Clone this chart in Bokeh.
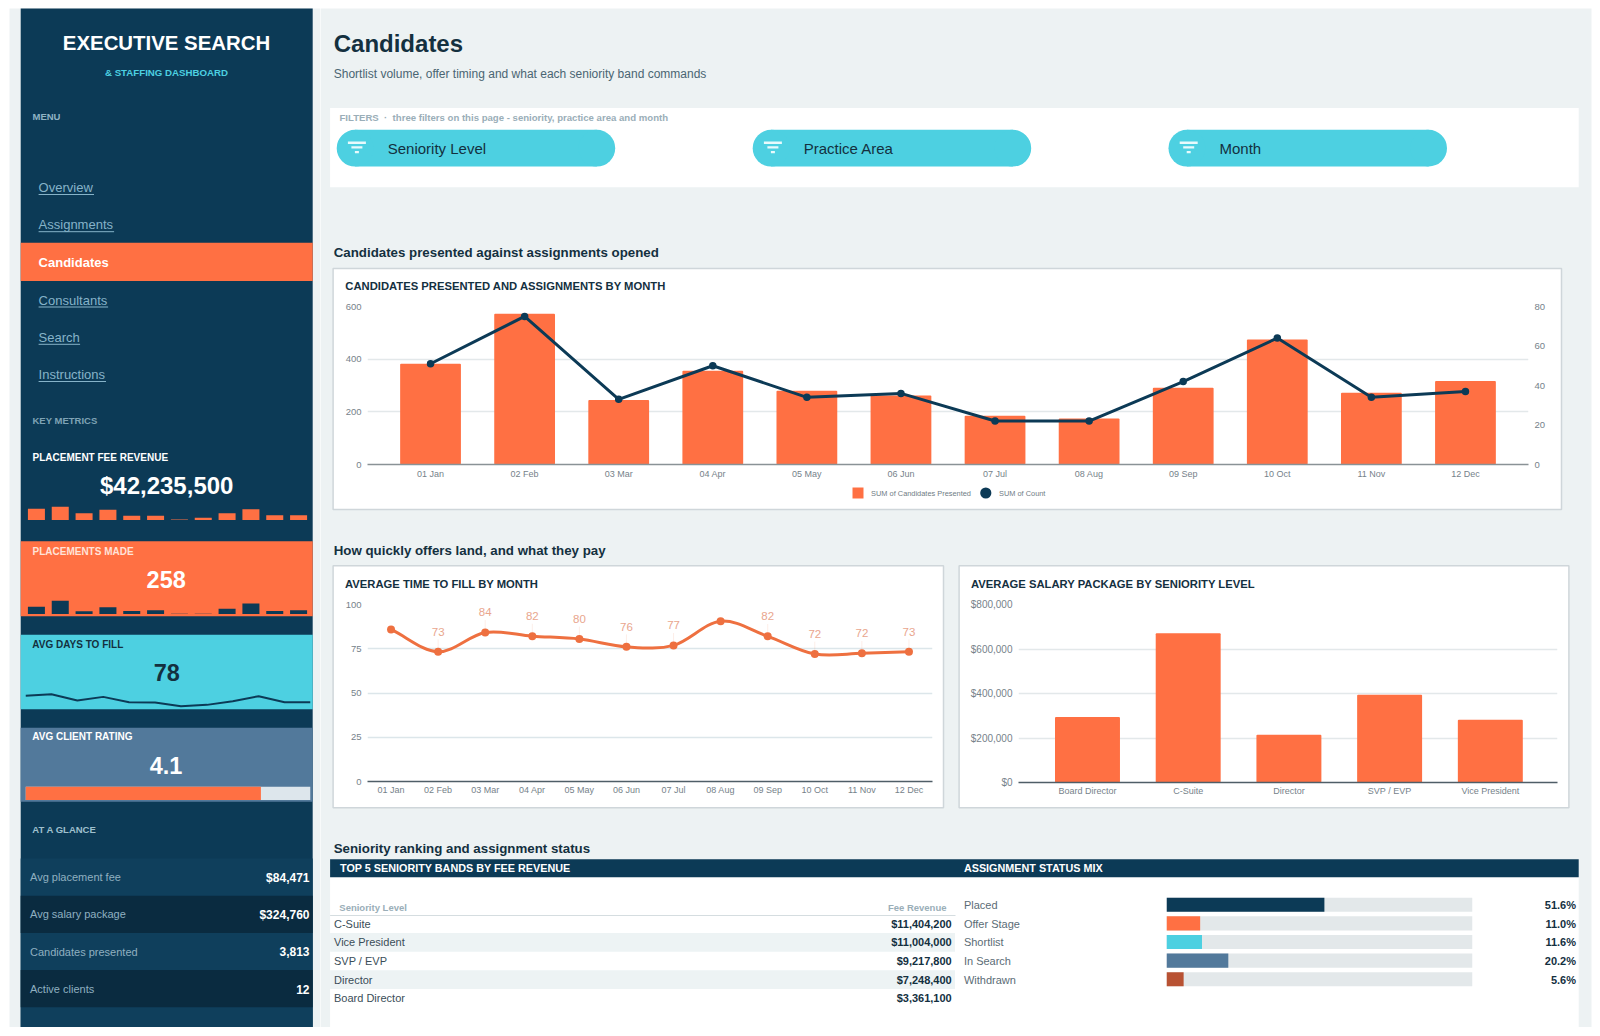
from bokeh.plotting import figure
from bokeh.layouts import column
from bokeh.models import Range1d, LinearAxis, FixedTicker, FactorRange, NumeralTickFormatter
from bokeh.core.properties import value
from bokeh.embed import file_html
from bokeh.resources import INLINE

# ---------------- data ----------------
MONTHS = ["01 Jan", "02 Feb", "03 Mar", "04 Apr", "05 May", "06 Jun", "07 Jul", "08 Aug", "09 Sep", "10 Oct", "11 Nov", "12 Dec"]
CANDIDATES = [383, 572, 245, 356, 280, 262, 185, 175, 291, 475, 272, 317]
COUNT = [51, 75, 33, 50, 34, 36, 22, 22, 42, 64, 34, 37]
FILL_DAYS = [85.9, 73.3, 84.2, 82.1, 80.5, 76.1, 76.9, 90.6, 82.0, 72.0, 72.4, 73.3]
FILL_LABELS = ["", "73", "84", "82", "80", "76", "77", "", "82", "72", "72", "73"]
SENIORITY = ["Board Director", "C-Suite", "Director", "SVP / EVP", "Vice President"]
SALARY = [294000, 671000, 214600, 394700, 282000]
FEE_SPARK = [5770000, 6760000, 3600000, 5280000, 2320000, 2320000, 490000, 1330000, 3600000, 5580000, 2620000, 2620000]
PLACE_SPARK = [30, 54, 13, 28, 14, 17, 3, 3, 22, 43, 14, 17]
DAYS_SPARK = [84, 86.5, 77, 82.5, 74.5, 74, 68.5, 70.5, 76, 83.5, 74.5, 74.5]
RATING = 4.13
RATING_MAX = 5
MENU = ["Overview", "Assignments", "Candidates", "Consultants", "Search", "Instructions"]
GLANCE_LABELS = ["Avg placement fee", "Avg salary package", "Candidates presented", "Active clients"]
GLANCE_VALUES = ["$84,471", "$324,760", "3,813", "12"]
FILTERS = ["Seniority Level", "Practice Area", "Month"]
TOP_BANDS = ["C-Suite", "Vice President", "SVP / EVP", "Director", "Board Director"]
TOP_FEES = ["$11,404,200", "$11,004,000", "$9,217,800", "$7,248,400", "$3,361,100"]
STATUS = ["Placed", "Offer Stage", "Shortlist", "In Search", "Withdrawn"]
STATUS_PCT = [51.6, 11.0, 11.6, 20.2, 5.6]

# ---------------- palette ----------------
NAVY = "#0C3A56"
NAVY_L = "#0F3F5C"
NAVY_D = "#0A2B40"
ORANGE = "#FF7043"
CYAN = "#4DD0E1"
STEEL = "#52799B"
BRICK = "#B85233"
PAGE = "#EDF2F3"
INK = "#14303F"
GRID = "#E3E8EA"
TICK = "#76828A"
FONT = "Liberation Sans"
STATUS_COLORS = [NAVY, ORANGE, CYAN, STEEL, BRICK]

W, H = 1584, 1020
BORDER_L, BORDER_R = 60, 40


def frame_fig(x0, x1, y0, y1, pad_t=0, pad_b=0, **kw):
    """Figure whose frame covers the page box x0..x1, y0..y1."""
    f = figure(frame_width=int(round(x1 - x0)), frame_height=int(round(y1 - y0)),
               output_backend="svg", toolbar_location=None, min_border=0,
               min_border_left=BORDER_L, min_border_right=BORDER_R,
               min_border_top=pad_t, min_border_bottom=pad_b,
               outline_line_color=None, background_fill_color=None, border_fill_color=None, **kw)
    f.styles = {"position": "absolute", "left": f"{x0 - BORDER_L - 8:.1f}px", "top": f"{y0 - pad_t - 8:.1f}px"}
    f.grid.visible = False
    return f


def sheet(x0, x1):
    """Page-pixel sheet for the panels and texts of one part of the page."""
    return frame_fig(x0, x1, 8, 8 + H, x_range=Range1d(x0, x1), y_range=Range1d(8 + H, 8),
                     x_axis_type=None, y_axis_type=None)


side = sheet(8, 320)
main = sheet(320, 1592)
bg = side


def box(x0, x1, y0, y1, color, line=None, lw=1):
    bg.quad(left=[x0], right=[x1], top=[y0], bottom=[y1], fill_color=color,
            line_color=line, line_width=lw)


def T(x, y, s, size, color, bold=False, align="left"):
    bg.text(x=[x], y=[y], text=[s], text_font=value(FONT), text_font_size=f"{size}px",
            text_color=color, text_font_style="bold" if bold else "normal",
            text_align=align, text_baseline="middle")


# page and sidebar
SL, SR = 20.2, 312.2
box(9, 320, 9, 1028, PAGE)
box(SL, SR, 9, 1028, NAVY)
T(166, 43.5, "EXECUTIVE SEARCH", 20.4, "#FFFFFF", True, "center")
T(166, 72.5, "& STAFFING DASHBOARD", 9.7, CYAN, True, "center")
T(32, 117, "MENU", 9.5, "#8FB3C4", True)

box(SL, SR, 243.3, 281.5, ORANGE)
menu_y = [188, 225.2, 262.5, 300.5, 337.8, 375]
menu_end = [93.5, 113.6, 0, 107.6, 79.6, 105.5]
for name, y, end in zip(MENU, menu_y, menu_end):
    active = name == "Candidates"
    T(38.1, y, name, 13, "#FFFFFF" if active else "#86B3C9", active)
    if not active:
        bg.line(x=[38.1, end], y=[y + 7, y + 7], line_color="#86B3C9", line_width=1)

T(32, 420.7, "KEY METRICS", 9.5, "#7FA3B5", True)
T(32, 458, "PLACEMENT FEE REVENUE", 10, "#FFFFFF", True)
T(166.2, 486, "$42,235,500", 24, "#FFFFFF", True, "center")

box(SL, SR, 541.7, 616.7, ORANGE)
T(32, 552, "PLACEMENTS MADE", 10, "#FFE3D8", True)
T(165.7, 580, "258", 23.5, "#FFFFFF", True, "center")

box(SL, SR, 635.3, 709.7, CYAN)
T(31.8, 645, "AVG DAYS TO FILL", 10, INK, True)
T(166.2, 673.3, "78", 23.5, INK, True, "center")

box(SL, SR, 728.3, 802.2, STEEL)
T(31.8, 737.3, "AVG CLIENT RATING", 10, "#FFFFFF", True)
T(165.5, 765.7, "4.1", 23.5, "#FFFFFF", True, "center")

T(31.8, 830.3, "AT A GLANCE", 9.5, "#9FC0CE", True)
box(SL, SR, 859, 1028, NAVY_L)
for i, (lab, val) in enumerate(zip(GLANCE_LABELS, GLANCE_VALUES)):
    y0 = 859 + i * 37.2
    if i % 2:
        box(SL, SR, y0, y0 + 37.2, NAVY_D)
    T(29.5, y0 + 18.6, lab, 11, "#8FB0C0")
    T(309, y0 + 19, val, 12, "#FFFFFF", True, "right")

# heading and filters
bg = main
box(320, 1591, 9, 1028, PAGE)
T(333.2, 44.4, "Candidates", 24, INK, True)
T(333.2, 74.5, "Shortlist volume, offer timing and what each seniority band commands", 12, "#4A6572")
box(329.6, 1578.2, 108.5, 187.8, "#FFFFFF")
T(339, 117.7, "FILTERS \u00a0·\u00a0 three filters on this page - seniority, practice area and month", 9.6, "#9AAEB8", True)
for name, px in zip(FILTERS, [336.2, 752.2, 1168]):
    r = 18.4
    bg.quad(left=[px + r], right=[px + 278.5 - r], top=[130.3], bottom=[167], fill_color=CYAN, line_color=None)
    bg.circle(x=[px + r, px + 278.5 - r], y=[148.65, 148.65], radius=r, fill_color=CYAN, line_color=None)
    cx = px + 20.2
    for dy, hw in [(143.2, 9), (147.9, 5.5), (152.6, 2)]:
        bg.quad(left=[cx - hw], right=[cx + hw], top=[dy - 1.2], bottom=[dy + 1.2], fill_color="#E8FAFC", line_color=None)
    T(px + 51, 148.5, name, 15, INK)

# section titles and cards
T(333.2, 253.3, "Candidates presented against assignments opened", 13.3, INK, True)
box(332.6, 1561, 268.9, 510, "#FFFFFF", "#CFD6DA", 1.5)
T(344.8, 286, "CANDIDATES PRESENTED AND ASSIGNMENTS BY MONTH", 11.25, INK, True)
bg.quad(left=[852], right=[863], top=[488], bottom=[499], fill_color=ORANGE, line_color=None)
T(870.6, 493.5, "SUM of Candidates Presented", 7.4, "#6F7C84")
bg.circle(x=[985.3], y=[493.5], radius=5.6, fill_color=NAVY, line_color=None)
T(998.5, 493.5, "SUM of Count", 7.4, "#6F7C84")

T(333.2, 551.2, "How quickly offers land, and what they pay", 13.3, INK, True)
box(332.6, 943, 566.2, 808.2, "#FFFFFF", "#CFD6DA", 1.5)
T(344.5, 584.3, "AVERAGE TIME TO FILL BY MONTH", 11.25, INK, True)
box(958.6, 1568.4, 566.2, 808.2, "#FFFFFF", "#CFD6DA", 1.5)
T(970.5, 584.3, "AVERAGE SALARY PACKAGE BY SENIORITY LEVEL", 11.25, INK, True)

T(333.2, 849.3, "Seniority ranking and assignment status", 13.3, INK, True)
box(329.6, 1578.2, 877.5, 1028, "#FFFFFF")
box(329.6, 1578.2, 859.8, 877.8, NAVY)
T(339.5, 868.3, "TOP 5 SENIORITY BANDS BY FEE REVENUE", 10.8, "#FFFFFF", True)
T(963.4, 868.3, "ASSIGNMENT STATUS MIX", 10.8, "#FFFFFF", True)
T(338.8, 907.7, "Seniority Level", 9.5, "#9AAEB8", True)
T(946, 907.7, "Fee Revenue", 9.5, "#9AAEB8", True, "right")
bg.line(x=[329.6, 955], y=[916, 916], line_color="#D5DDE0", line_width=1)
for i, (b, f) in enumerate(zip(TOP_BANDS, TOP_FEES)):
    yc = 924.3 + i * 18.6
    if i % 2:
        box(329.6, 954.5, yc - 9.3, yc + 9.3, "#EDF3F4")
    T(333.5, yc, b, 11, "#3A4D58")
    T(951.2, yc, f, 11, INK, True, "right")
for i, (s, pc) in enumerate(zip(STATUS, STATUS_PCT)):
    yc = 905.7 + i * 18.6
    T(963.4, yc, s, 11, "#5B6C76")
    T(1575.5, yc, f"{pc:.1f}%", 11, INK, True, "right")


# ---------------- charts ----------------
def style_axes(f, xlabels=None, axis_color="#8A9296", xsize="9px", ysize="9.5px", standoff=4):
    ax = f.xaxis[0]
    ax.axis_line_color = axis_color
    ax.axis_line_width = 1.5
    ax.major_tick_out = 0
    ax.major_tick_in = 0
    ax.minor_tick_out = 0
    ax.minor_tick_in = 0
    ax.major_label_text_font = FONT
    ax.major_label_text_font_size = xsize
    ax.major_label_text_color = TICK
    ax.major_label_standoff = standoff
    if xlabels:
        ax.ticker = FixedTicker(ticks=list(range(len(xlabels))))
        ax.major_label_overrides = {i: m for i, m in enumerate(xlabels)}
    ay = f.yaxis[0]
    ay.axis_line_color = None
    ay.major_tick_out = 0
    ay.major_tick_in = 0
    ay.minor_tick_out = 0
    ay.minor_tick_in = 0
    ay.major_label_text_font = FONT
    ay.major_label_text_font_size = ysize
    ay.major_label_text_color = TICK
    ay.major_label_standoff = 6
    f.ygrid.visible = True
    f.ygrid.grid_line_color = GRID
    f.ygrid.grid_line_width = 1.5


idx = list(range(12))

# candidates and assignments
c1 = frame_fig(367, 1528, 307, 464.7, pad_t=8, pad_b=20,
               x_range=Range1d(-0.67, 11.67), y_range=Range1d(0, 600))
style_axes(c1, MONTHS)
c1.yaxis[0].ticker = FixedTicker(ticks=[0, 200, 400, 600])
c1.extra_y_ranges = {"count": Range1d(0, 80)}
right = LinearAxis(y_range_name="count", ticker=FixedTicker(ticks=[0, 20, 40, 60, 80]),
                   axis_line_color=None, major_tick_out=0, major_tick_in=0, minor_tick_out=0, minor_tick_in=0,
                   major_label_text_font=FONT, major_label_text_font_size="9.5px",
                   major_label_text_color=TICK, major_label_standoff=6)
c1.add_layout(right, "right")
c1.vbar(x=idx, top=CANDIDATES, width=0.646, fill_color=ORANGE, line_color=None, border_radius=1)
c1.line(x=idx, y=COUNT, y_range_name="count", line_color=NAVY, line_width=3)
c1.scatter(x=idx, y=COUNT, y_range_name="count", size=7.5, fill_color=NAVY, line_color=None)

# time to fill
c2 = frame_fig(366.7, 931.7, 605, 782.3, pad_t=8, pad_b=20,
               x_range=Range1d(-0.5, 11.5), y_range=Range1d(0, 100))
style_axes(c2, MONTHS, axis_color="#4F5E67", standoff=3)
c2.yaxis[0].ticker = FixedTicker(ticks=[0, 25, 50, 75, 100])
c2.ygrid.grid_line_color = "#DCE6EA"
x0 = idx[:-1]
x1 = idx[1:]
n = len(FILL_DAYS)
slope = [(FILL_DAYS[min(i + 1, n - 1)] - FILL_DAYS[max(i - 1, 0)]) / (min(i + 1, n - 1) - max(i - 1, 0)) for i in idx]
c2.bezier(x0=x0, y0=FILL_DAYS[:-1], x1=x1, y1=FILL_DAYS[1:],
          cx0=[i + 1 / 3 for i in x0], cy0=[FILL_DAYS[i] + slope[i] / 3 for i in x0],
          cx1=[i - 1 / 3 for i in x1], cy1=[FILL_DAYS[i] - slope[i] / 3 for i in x1],
          line_color="#EE7040", line_width=3)
c2.scatter(x=idx, y=FILL_DAYS, size=8, fill_color="#EE7040", line_color=None)
shown = [i for i in idx if FILL_LABELS[i]]
c2.segment(x0=shown, y0=[FILL_DAYS[i] for i in shown], x1=shown, y1=[FILL_DAYS[i] + 7 for i in shown],
           line_color="#EE7040", line_alpha=0.12, line_width=1)
c2.text(x=shown, y=[FILL_DAYS[i] for i in shown], text=[FILL_LABELS[i] for i in shown], y_offset=-20,
        text_font=value(FONT), text_font_size="11.5px", text_color="#E9A68E",
        text_align="center", text_baseline="middle")

# salary by seniority
c3 = frame_fig(1017.6, 1557, 605, 782.7, pad_t=8, pad_b=20,
               x_range=Range1d(-0.685, 4.667), y_range=Range1d(0, 800000))
style_axes(c3, SENIORITY, axis_color="#4F5E67", ysize="10px", standoff=3)
c3.yaxis[0].ticker = FixedTicker(ticks=[0, 200000, 400000, 600000, 800000])
c3.yaxis[0].formatter = NumeralTickFormatter(format="$0,0")
c3.vbar(x=list(range(5)), top=SALARY, width=0.645, fill_color=ORANGE, line_color=None, border_radius=1)

# sidebar sparks
s1 = frame_fig(24.1, 309.9, 505, 521, x_range=Range1d(-0.5, 11.5), y_range=Range1d(0, 7900000),
               x_axis_type=None, y_axis_type=None)
s1.vbar(x=idx, top=FEE_SPARK, width=0.714, fill_color=ORANGE, line_color=None)

s2 = frame_fig(24.1, 309.9, 598.7, 614.7, x_range=Range1d(-0.5, 11.5), y_range=Range1d(0, 62.4),
               x_axis_type=None, y_axis_type=None)
s2.vbar(x=idx, top=PLACE_SPARK, width=0.714, fill_color=NAVY, line_color=None)

s3 = frame_fig(24.7, 309.7, 690, 710, x_range=Range1d(0, 11), y_range=Range1d(63.55, 93.55),
               x_axis_type=None, y_axis_type=None)
s3.line(x=idx, y=DAYS_SPARK, line_color=NAVY, line_width=2)

s4 = frame_fig(24.7, 309.7, 786.7, 800.7, x_range=Range1d(0, RATING_MAX), y_range=Range1d(0, 1),
               x_axis_type=None, y_axis_type=None)
s4.hbar(y=[0.5], right=[RATING_MAX], height=1, fill_color="#DDE6EC", line_color=None)
s4.hbar(y=[0.5], right=[RATING], height=1, fill_color=ORANGE, line_color=None)

# status bars
st = frame_fig(1166, 1472, 896.4, 989.4, x_range=Range1d(0, 100), y_range=FactorRange(factors=STATUS[::-1]),
               x_axis_type=None, y_axis_type=None)
st.hbar(y=STATUS, right=[100] * 5, height=0.757, fill_color="#E3E8EA", line_color=None)
st.hbar(y=STATUS, right=STATUS_PCT, height=0.757, fill_color=STATUS_COLORS, line_color=None)

# one pixel up: the reference's panels sit one pixel above the plain page margin
page = column(side, main, c1, c2, c3, s1, s2, s3, s4, st, width=W, height=H,
              margin=(7, 0, 0, 8), styles={"position": "relative", "overflow": "hidden"})
open("out.html", "w").write(file_html(page, INLINE))
